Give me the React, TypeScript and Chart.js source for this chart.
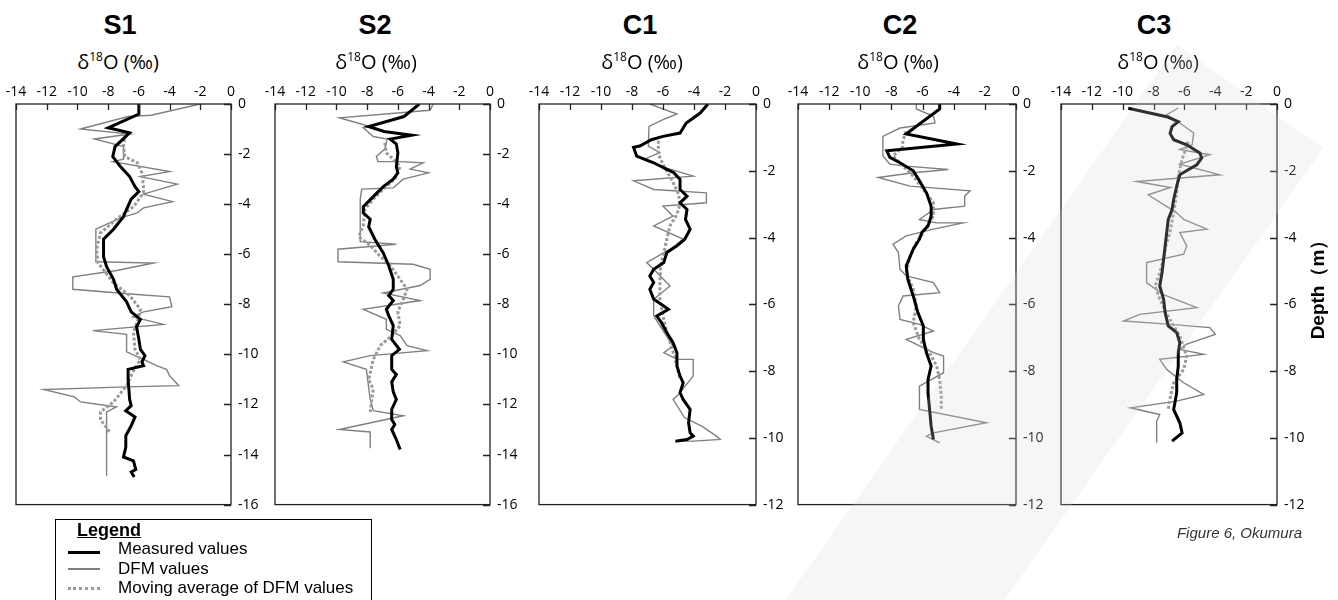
import React, { useEffect, useRef } from "react";
import { Chart, registerables } from "chart.js";
Chart.register(...registerables);

// ---------- tick labels ----------
const X_TICK_VALUES = [-14, -12, -10, -8, -6, -4, -2, 0];
const DEPTH_TICKS_16 = [0, -2, -4, -6, -8, -10, -12, -14, -16];
const DEPTH_TICKS_12 = [0, -2, -4, -6, -8, -10, -12];

// ---------- data: [depth (m), d18O (permil)] ----------
const S1_MEASURED: [number, number][] = [
  [0, -6.0], [-0.4, -6.0], [-0.95, -8.0], [-1.15, -6.6], [-1.7, -7.55], [-2.1, -7.7], [-2.5, -7.2],
  [-2.9, -6.6], [-3.3, -6.25], [-3.5, -6.0], [-3.8, -6.5], [-4.35, -6.9], [-4.5, -7.0], [-5.0, -7.65],
  [-5.4, -8.3], [-6.1, -8.3], [-6.5, -8.1], [-7.0, -7.65], [-7.4, -7.45], [-7.9, -6.8], [-8.3, -6.5],
  [-8.6, -5.9], [-8.9, -6.15], [-9.4, -6.0], [-9.8, -5.9], [-10.05, -5.6], [-10.3, -5.8], [-10.45, -5.7],
  [-10.6, -6.7], [-11.0, -6.7], [-11.8, -6.6], [-12.05, -6.5], [-12.25, -6.85], [-12.5, -6.25],
  [-12.85, -6.5], [-13.25, -6.85], [-13.7, -6.85], [-14.1, -7.0], [-14.25, -6.35], [-14.6, -6.2],
  [-14.7, -6.5], [-14.9, -6.3],
];
const S1_DFM: [number, number][] = [
  [0, -2.0], [-0.45, -5.2], [-0.5, -6.7], [-1.0, -9.8], [-1.2, -6.6], [-1.4, -8.9], [-1.7, -7.0],
  [-2.2, -7.0], [-2.3, -7.7], [-2.7, -4.0], [-2.9, -5.9], [-3.2, -3.5], [-3.6, -5.7], [-3.9, -3.8],
  [-4.15, -5.7], [-4.35, -6.1], [-4.55, -7.2], [-5.0, -8.8], [-6.3, -8.8], [-6.35, -5.05], [-6.65, -7.45],
  [-6.9, -10.3], [-7.4, -10.3], [-7.6, -6.35], [-7.7, -4.0], [-8.1, -3.85], [-8.3, -5.7], [-8.5, -6.4],
  [-8.8, -4.4], [-9.05, -9.0], [-9.2, -6.8], [-9.9, -6.8], [-10.2, -5.7], [-10.45, -4.85], [-10.6, -4.2],
  [-10.85, -4.0], [-11.25, -3.4], [-11.3, -6.8], [-11.4, -12.2], [-11.7, -10.2], [-11.9, -9.8],
  [-12.1, -7.45], [-12.3, -8.1], [-14.85, -8.1],
];
const S1_MOVING_AVG: [number, number][] = [
  [-1.2, -6.9], [-1.7, -7.0], [-2.1, -6.9], [-2.35, -6.1], [-2.75, -5.8], [-3.3, -5.7], [-3.55, -5.7],
  [-4.1, -6.35], [-4.6, -7.45], [-5.15, -8.5], [-5.8, -8.75], [-6.35, -8.65], [-7.15, -7.65],
  [-7.65, -6.6], [-8.2, -5.9], [-8.6, -6.05], [-9.1, -6.35], [-9.8, -6.25], [-10.2, -5.9], [-10.6, -6.3],
  [-11.25, -6.8], [-11.9, -7.65], [-12.3, -8.5], [-12.6, -8.5], [-13.1, -7.9],
];

const S2_MEASURED: [number, number][] = [
  [0, -4.6], [-0.5, -5.6], [-0.9, -7.9], [-1.1, -6.9], [-1.25, -5.1], [-1.4, -6.5], [-1.6, -6.1],
  [-1.95, -6.0], [-2.5, -6.1], [-2.75, -6.0], [-3.0, -6.3], [-3.3, -6.95], [-3.7, -7.6], [-4.1, -8.25],
  [-4.35, -8.25], [-4.6, -7.8], [-4.9, -7.9], [-5.4, -7.5], [-5.95, -6.95], [-6.45, -6.6], [-7.0, -6.3],
  [-7.4, -6.3], [-7.65, -6.6], [-7.85, -6.3], [-8.2, -6.75], [-8.45, -6.6], [-8.85, -6.3], [-9.4, -6.4],
  [-9.8, -5.9], [-10.05, -6.4], [-10.6, -6.4], [-10.8, -6.1], [-11.1, -6.4], [-11.5, -6.3], [-11.8, -6.1],
  [-12.2, -6.4], [-12.6, -6.4], [-12.8, -6.2], [-13.0, -6.4], [-13.4, -6.1], [-13.8, -5.85],
];
const S2_DFM: [number, number][] = [
  [0, -3.7], [-0.25, -3.9], [-0.55, -9.8], [-0.9, -7.8], [-0.95, -8.25], [-1.3, -7.6], [-1.4, -6.7],
  [-1.8, -6.85], [-2.1, -7.4], [-2.3, -7.3], [-2.3, -5.85], [-2.35, -4.35], [-2.6, -5.2], [-2.75, -4.0],
  [-3.0, -5.65], [-3.35, -6.3], [-3.4, -8.35], [-3.8, -8.45], [-5.5, -8.45], [-5.6, -6.1], [-5.8, -9.9],
  [-6.3, -9.9], [-6.4, -5.0], [-6.6, -3.9], [-7.0, -3.9], [-7.25, -4.55], [-7.55, -6.95], [-7.85, -4.55],
  [-8.2, -8.25], [-8.6, -6.75], [-9.0, -6.75], [-9.25, -5.85], [-9.65, -5.4], [-9.85, -4.1],
  [-10.05, -7.8], [-10.3, -9.55], [-10.6, -8.05], [-11.8, -7.8], [-12.25, -7.6], [-12.45, -5.65],
  [-13.0, -9.8], [-13.1, -7.8], [-13.75, -7.8],
];
const S2_MOVING_AVG: [number, number][] = [
  [-1.55, -6.85], [-1.95, -6.75], [-2.2, -6.3], [-2.5, -5.85], [-3.0, -6.2], [-3.4, -6.95], [-3.8, -7.6],
  [-4.2, -8.15], [-4.85, -8.25], [-5.3, -8.55], [-5.65, -7.8], [-6.05, -7.2], [-6.45, -6.5], [-7.0, -5.85],
  [-7.4, -5.4], [-7.8, -5.65], [-8.3, -6.0], [-8.85, -5.85], [-9.25, -6.4], [-9.65, -7.15], [-10.2, -7.6],
  [-11.0, -7.9], [-11.4, -7.6], [-11.8, -7.7], [-12.3, -7.8],
];

const C1_MEASURED: [number, number][] = [
  [0, -3.1], [-0.27, -3.6], [-0.57, -4.5], [-0.87, -4.9], [-0.97, -6.0], [-1.07, -6.75], [-1.26, -7.5],
  [-1.3, -7.9], [-1.56, -7.7], [-1.76, -6.6], [-1.96, -5.75], [-2.06, -5.3], [-2.26, -4.9], [-2.56, -4.9],
  [-2.76, -4.45], [-2.96, -4.9], [-3.16, -4.45], [-3.46, -4.55], [-3.75, -4.25], [-4.05, -4.6],
  [-4.25, -5.1], [-4.45, -5.75], [-4.75, -5.95], [-4.95, -6.6], [-5.15, -6.85], [-5.35, -6.6],
  [-5.55, -6.85], [-5.85, -6.6], [-6.05, -5.95], [-6.15, -5.65], [-6.35, -6.4], [-6.55, -6.1],
  [-6.85, -5.75], [-7.15, -5.35], [-7.45, -5.1], [-7.85, -5.1], [-8.15, -4.9], [-8.35, -4.7],
  [-8.65, -4.9], [-8.85, -4.7], [-9.15, -4.25], [-9.55, -4.35], [-9.85, -4.25], [-9.95, -4.05],
  [-10.05, -4.45], [-10.1, -5.2],
];
const C1_DFM: [number, number][] = [
  [0, -6.85], [-0.3, -5.1], [-0.47, -6.0], [-0.67, -6.9], [-1.26, -6.95], [-1.46, -6.2], [-1.66, -7.25],
  [-1.86, -6.2], [-2.16, -4.05], [-2.3, -7.9], [-2.56, -6.6], [-2.66, -3.2], [-2.96, -3.2], [-3.06, -6.0],
  [-3.36, -5.35], [-3.65, -6.6], [-4.05, -4.7], [-4.35, -5.55], [-4.75, -7.05], [-4.95, -6.6],
  [-5.45, -5.55], [-5.85, -6.6], [-6.35, -6.6], [-7.25, -5.35], [-7.45, -5.95], [-7.65, -5.1],
  [-7.65, -4.05], [-8.15, -4.05], [-8.75, -5.1], [-8.85, -5.35], [-9.4, -4.6], [-9.65, -3.5],
  [-9.95, -2.55], [-10.05, -2.3], [-10.1, -4.05], [-10.1, -5.0],
];
const C1_MOVING_AVG: [number, number][] = [
  [-1.1, -6.3], [-1.5, -6.3], [-1.9, -5.9], [-2.3, -5.4], [-2.7, -5.0], [-3.0, -4.9], [-3.3, -5.1],
  [-3.65, -5.55], [-4.05, -5.75], [-4.45, -5.95], [-4.85, -6.15], [-5.35, -6.2], [-5.85, -6.2],
  [-6.35, -6.0], [-6.85, -5.75], [-7.35, -5.4], [-7.85, -5.1], [-8.25, -4.9],
];

const C2_MEASURED: [number, number][] = [
  [0, -4.9], [-0.15, -4.9], [-0.6, -6.2], [-0.9, -7.05], [-1.2, -3.8], [-1.4, -8.3], [-1.6, -8.1],
  [-1.76, -7.45], [-2.0, -6.6], [-2.3, -6.2], [-2.66, -5.75], [-3.06, -5.45], [-3.36, -5.45],
  [-3.65, -5.65], [-3.85, -6.05], [-4.05, -6.2], [-4.35, -6.6], [-4.85, -7.05], [-5.25, -6.95],
  [-5.75, -6.6], [-6.25, -6.3], [-6.65, -5.95], [-7.05, -5.95], [-7.45, -5.75], [-7.85, -5.45],
  [-8.25, -5.65], [-8.65, -5.65], [-9.15, -5.55], [-9.65, -5.45], [-10.05, -5.3],
];
const C2_DFM: [number, number][] = [
  [0, -6.4], [-0.15, -6.4], [-0.37, -5.3], [-0.57, -5.2], [-0.72, -7.45], [-0.97, -8.55], [-1.56, -8.55],
  [-1.8, -8.1], [-1.86, -7.05], [-1.96, -4.35], [-2.06, -6.6], [-2.2, -8.85], [-2.46, -6.8], [-2.6, -2.95],
  [-2.76, -3.3], [-3.06, -3.3], [-3.16, -5.3], [-3.46, -6.2], [-3.56, -5.1], [-3.56, -3.4], [-3.75, -5.3],
  [-3.95, -7.05], [-4.2, -7.9], [-4.45, -7.55], [-4.95, -7.45], [-5.15, -7.05], [-5.35, -5.3],
  [-5.65, -4.9], [-5.75, -7.25], [-6.05, -7.55], [-6.45, -7.45], [-6.6, -6.2], [-6.8, -5.3],
  [-7.05, -7.05], [-7.45, -5.3], [-7.55, -4.65], [-8.05, -4.65], [-8.45, -6.2], [-9.15, -6.2],
  [-9.55, -1.9], [-9.85, -5.3], [-9.95, -5.75], [-10.15, -4.9],
];
const C2_MOVING_AVG: [number, number][] = [
  [-0.82, -7.05], [-1.07, -7.25], [-1.3, -7.3], [-1.56, -7.9], [-1.86, -7.25], [-2.16, -6.6],
  [-2.56, -5.95], [-2.96, -5.3], [-3.36, -5.3], [-3.85, -5.95], [-4.15, -6.4], [-4.55, -6.8],
  [-5.05, -7.05], [-5.55, -6.6], [-6.05, -6.4], [-6.55, -6.6], [-7.05, -6.2], [-7.45, -5.55],
  [-7.85, -5.1], [-8.25, -4.9], [-8.75, -4.8], [-9.15, -4.8],
];

const C3_MEASURED: [number, number][] = [
  [-0.13, -9.64], [-0.38, -7.15], [-0.53, -6.4], [-0.68, -6.8], [-0.88, -6.93], [-1.07, -6.7],
  [-1.22, -5.85], [-1.47, -5.0], [-1.62, -4.88], [-1.82, -5.2], [-1.97, -5.75], [-2.12, -6.3],
  [-2.46, -6.5], [-2.86, -6.7], [-3.16, -6.8], [-3.46, -7.05], [-3.85, -7.15], [-4.25, -7.25],
  [-4.65, -7.35], [-5.05, -7.45], [-5.45, -7.6], [-5.85, -7.35], [-6.25, -7.25], [-6.65, -7.05],
  [-6.85, -6.5], [-7.15, -6.3], [-7.45, -6.4], [-7.85, -6.4], [-8.25, -6.5], [-8.65, -6.5],
  [-9.15, -6.7], [-9.55, -6.3], [-9.85, -6.15], [-10.1, -6.8],
];
const C3_DFM: [number, number][] = [
  [-0.12, -6.4], [-0.32, -7.15], [-0.57, -6.3], [-0.87, -5.4], [-1.22, -5.5], [-1.36, -6.3],
  [-1.52, -4.35], [-1.8, -6.3], [-2.12, -3.7], [-2.32, -9.1], [-2.5, -6.9], [-2.72, -8.35],
  [-3.26, -6.5], [-3.46, -6.05], [-3.75, -4.55], [-3.85, -6.3], [-4.25, -5.85], [-4.5, -6.05],
  [-4.75, -8.45], [-5.35, -8.45], [-5.7, -7.4], [-6.1, -5.2], [-6.3, -8.9], [-6.5, -9.95], [-6.6, -6.9],
  [-6.7, -4.35], [-6.9, -4.0], [-7.2, -5.9], [-7.35, -6.3], [-7.5, -4.75], [-7.65, -7.6], [-7.95, -7.15],
  [-8.35, -6.05], [-8.7, -4.75], [-8.9, -6.5], [-9.1, -9.5], [-9.3, -7.6], [-9.5, -7.8], [-10.15, -7.8],
];
const C3_MOVING_AVG: [number, number][] = [
  [-1.12, -5.75], [-1.66, -6.15], [-2.16, -6.4], [-2.66, -6.5], [-3.26, -6.7], [-3.85, -6.95],
  [-4.25, -7.2], [-4.65, -7.35], [-5.05, -7.6], [-5.45, -7.9], [-5.85, -7.6], [-6.45, -6.95],
  [-6.95, -6.3], [-7.55, -5.85], [-7.95, -6.05], [-8.35, -6.7], [-8.85, -6.95], [-9.15, -7.05],
];

const SERIES_LABELS = ["Measured values", "DFM values", "Moving average of DFM values"];

// ---------- layout ----------
const PLOT_TOP = 104;
const PLOT_H = 402;
const PAD_L = 16;
const AXIS_T = 30;
const AXIS_R = 40;
const PAD_B = 14;

type PanelCfg = {
  name: string;
  left: number;
  right: number;
  yMin: number;
  depthTicks: number[];
  titleX: number;
  labelX: number;
  measured: [number, number][];
  dfm: [number, number][];
  ma: [number, number][];
};

const PANELS: PanelCfg[] = [
  { name: "S1", left: 16, right: 231, yMin: -16, depthTicks: DEPTH_TICKS_16, titleX: 120, labelX: 118, measured: S1_MEASURED, dfm: S1_DFM, ma: S1_MOVING_AVG },
  { name: "S2", left: 275, right: 490, yMin: -16, depthTicks: DEPTH_TICKS_16, titleX: 375, labelX: 376, measured: S2_MEASURED, dfm: S2_DFM, ma: S2_MOVING_AVG },
  { name: "C1", left: 539, right: 756, yMin: -12, depthTicks: DEPTH_TICKS_12, titleX: 640, labelX: 642, measured: C1_MEASURED, dfm: C1_DFM, ma: C1_MOVING_AVG },
  { name: "C2", left: 798, right: 1016, yMin: -12, depthTicks: DEPTH_TICKS_12, titleX: 900, labelX: 898, measured: C2_MEASURED, dfm: C2_DFM, ma: C2_MOVING_AVG },
  { name: "C3", left: 1061, right: 1277, yMin: -12, depthTicks: DEPTH_TICKS_12, titleX: 1154, labelX: 1158, measured: C3_MEASURED, dfm: C3_DFM, ma: C3_MOVING_AVG },
];

const toPoints = (arr: [number, number][]) => arr.map(([d, v]) => ({ x: v, y: d }));

const framePlugin = {
  id: "frameTicks",
  afterDraw(chart: any) {
    const { ctx, chartArea: a, scales } = chart;
    ctx.save();
    ctx.strokeStyle = "#222";
    ctx.lineWidth = 1.3;
    ctx.strokeRect(a.left, a.top, a.right - a.left, a.bottom - a.top);
    ctx.beginPath();
    scales.x.ticks.forEach((t: any) => {
      const px = Math.round(scales.x.getPixelForValue(t.value)) + 0.5;
      ctx.moveTo(px, a.top);
      ctx.lineTo(px, a.top + 6);
    });
    scales.y.ticks.forEach((t: any) => {
      const py = Math.round(scales.y.getPixelForValue(t.value)) + 0.5;
      ctx.moveTo(a.right, py);
      ctx.lineTo(a.right - 7, py);
    });
    ctx.stroke();
    ctx.restore();
  },
};

function Panel({ cfg }: { cfg: PanelCfg }) {
  const ref = useRef<HTMLCanvasElement>(null);
  const w = cfg.right - cfg.left + PAD_L + AXIS_R;
  const h = AXIS_T + PLOT_H + PAD_B;
  useEffect(() => {
    const tickFont = { family: "'Open Sans', sans-serif", size: 14 };
    const chart = new Chart(ref.current as HTMLCanvasElement, {
      type: "scatter",
      data: {
        datasets: [
          {
            label: SERIES_LABELS[0],
            data: toPoints(cfg.measured),
            showLine: true,
            borderColor: "#000",
            borderWidth: 3,
            pointRadius: 0,
            tension: 0,
          },
          {
            label: SERIES_LABELS[2],
            data: toPoints(cfg.ma),
            showLine: true,
            borderColor: "#9a9a9a",
            borderWidth: 3,
            borderDash: [3, 2],
            pointRadius: 0,
            tension: 0,
          },
          {
            label: SERIES_LABELS[1],
            data: toPoints(cfg.dfm),
            showLine: true,
            borderColor: "#808080",
            borderWidth: 1.4,
            pointRadius: 0,
            tension: 0,
          },
        ],
      },
      options: {
        animation: false,
        responsive: false,
        maintainAspectRatio: false,
        layout: { padding: { left: PAD_L, right: 0, top: 0, bottom: PAD_B } },
        plugins: { legend: { display: false }, tooltip: { enabled: false } },
        scales: {
          x: {
            type: "linear",
            position: "top",
            min: -14,
            max: 0,
            afterBuildTicks: (s: any) => {
              s.ticks = X_TICK_VALUES.map((v) => ({ value: v }));
            },
            afterFit: (s: any) => {
              s.height = AXIS_T;
            },
            grid: { display: false, drawTicks: false },
            border: { display: false },
            ticks: { padding: 4, color: "#000", font: tickFont, maxRotation: 0, autoSkip: false },
          },
          y: {
            type: "linear",
            position: "right",
            min: cfg.yMin,
            max: 0,
            afterBuildTicks: (s: any) => {
              s.ticks = cfg.depthTicks.map((v) => ({ value: v }));
            },
            afterFit: (s: any) => {
              s.width = AXIS_R;
            },
            grid: { display: false, drawTicks: false },
            border: { display: false },
            ticks: { padding: 7, color: "#000", font: tickFont, autoSkip: false },
          },
        },
      } as any,
      plugins: [framePlugin],
    });
    return () => chart.destroy();
  }, [cfg]);
  return (
    <canvas
      ref={ref}
      width={w}
      height={h}
      style={{ position: "absolute", left: cfg.left - PAD_L, top: PLOT_TOP - AXIS_T, width: w, height: h }}
    />
  );
}

const sans = "'Liberation Sans', Arial, sans-serif";

export default function App() {
  return (
    <div
      style={{
        position: "absolute",
        left: 0,
        top: 0,
        width: 1338,
        height: 600,
        overflow: "hidden",
        background: "#fff",
        fontFamily: sans,
      }}
    >
      {PANELS.map((p) => (
        <React.Fragment key={p.name}>
          <div
            style={{
              position: "absolute",
              left: p.titleX - 60,
              width: 120,
              top: 12,
              textAlign: "center",
              fontFamily: sans,
              fontWeight: 700,
              fontSize: 27,
              lineHeight: "27px",
              color: "#000",
            }}
          >
            {p.name}
          </div>
          <div
            style={{
              position: "absolute",
              left: p.labelX - 80,
              width: 160,
              top: 51,
              textAlign: "center",
              fontFamily: "'Open Sans', sans-serif",
              fontSize: 20,
              lineHeight: "22px",
              color: "#000",
              whiteSpace: "nowrap",
            }}
          >
            δ<span style={{ fontSize: 12, position: "relative", top: -8 }}>18</span>O (‰)
          </div>
          <Panel cfg={p} />
        </React.Fragment>
      ))}

      <div
        style={{
          position: "absolute",
          left: 1318,
          top: 285,
          transform: "translate(-50%, -50%) rotate(-90deg)",
          fontFamily: sans,
          fontWeight: 700,
          fontSize: 19,
          whiteSpace: "nowrap",
          color: "#000",
        }}
      >
        Depth（m）
      </div>

      {/* Legend */}
      <div
        style={{
          position: "absolute",
          left: 55,
          top: 519,
          width: 317,
          height: 120,
          border: "1px solid #000",
          boxSizing: "border-box",
        }}
      />
      <div
        style={{
          position: "absolute",
          left: 77,
          top: 521,
          fontFamily: sans,
          fontWeight: 700,
          fontSize: 18,
          lineHeight: "18px",
          textDecoration: "underline",
          color: "#000",
        }}
      >
        Legend
      </div>
      <div style={{ position: "absolute", left: 68, top: 551, width: 32, height: 3, background: "#000" }} />
      <div style={{ position: "absolute", left: 68, top: 568, width: 32, height: 1.5, background: "#808080" }} />
      <div style={{ position: "absolute", left: 68, top: 587, width: 32, height: 0, borderTop: "3px dotted #9a9a9a" }} />
      {SERIES_LABELS.map((t, i) => (
        <div
          key={t}
          style={{
            position: "absolute",
            left: 118,
            top: 540 + i * 19.5,
            fontFamily: sans,
            fontSize: 17,
            lineHeight: "17px",
            color: "#000",
            whiteSpace: "nowrap",
          }}
        >
          {t}
        </div>
      ))}

      <div
        style={{
          position: "absolute",
          right: 1338 - 1302,
          top: 525,
          fontFamily: sans,
          fontStyle: "italic",
          fontSize: 15,
          lineHeight: "15px",
          color: "#333",
          whiteSpace: "nowrap",
        }}
      >
        Figure 6, Okumura
      </div>

      {/* diagonal watermark band */}
      <div
        style={{
          position: "absolute",
          left: 1177,
          top: 45,
          width: 179,
          height: 900,
          transform: "rotate(35.2deg)",
          transformOrigin: "0 0",
          background: "rgba(215,215,215,0.22)",
          pointerEvents: "none",
        }}
      />
    </div>
  );
}
